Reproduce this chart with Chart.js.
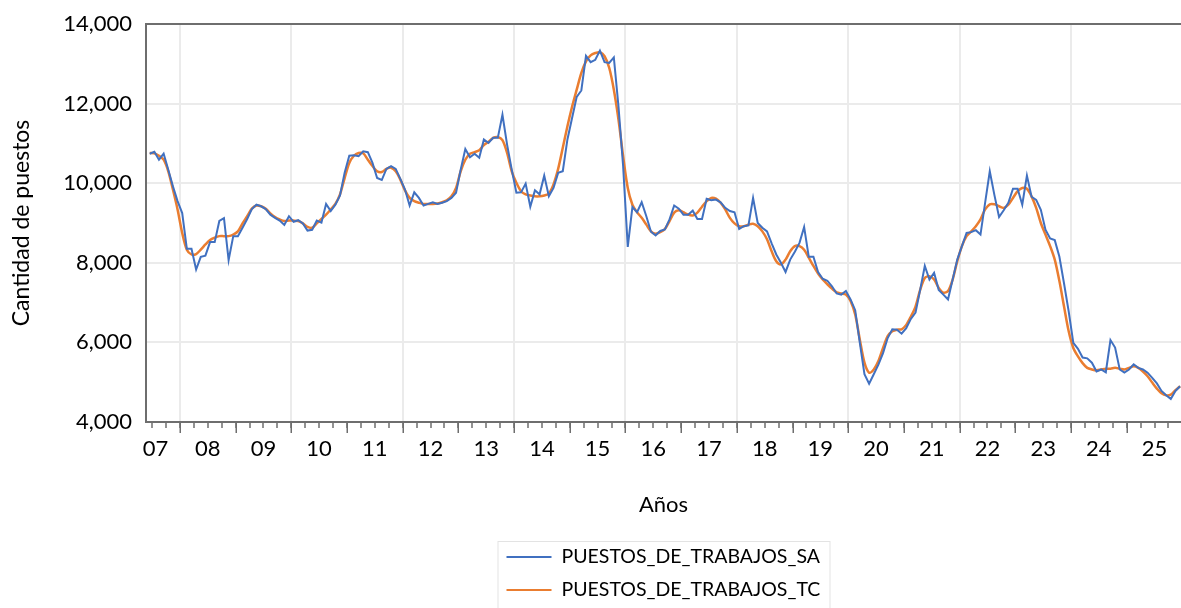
<!DOCTYPE html>
<html>
<head>
<meta charset="utf-8">
<script src="https://cdn.jsdelivr.net/npm/chart.js@4.4.1/dist/chart.umd.min.js"></script>
<style>
  html, body { margin: 0; padding: 0; background: #fff; }
  #wrap { width: 1181px; height: 608px; position: relative; }
</style>
</head>
<body>
<div id="wrap"><canvas id="chart"></canvas></div>
<script>
// serie mensual, comienza en junio 2007 (mes 5 contando desde enero 2007 = 0)
const firstMonth = 5;

const puestosSA = [
  10740, 10790, 10590, 10740, 10340, 9920, 9550,
  9250, 8350, 8350, 7830, 8150, 8180, 8520, 8520, 9050, 9120, 8070, 8670,
  8670, 8880, 9100, 9350, 9460, 9420, 9350, 9210, 9130, 9060, 8950, 9170,
  9030, 9070, 8990, 8810, 8830, 9060, 9010, 9480, 9300, 9460, 9690, 10260,
  10690, 10700, 10680, 10800, 10780, 10510, 10130, 10080, 10360, 10430, 10360, 10110,
  9840, 9440, 9770, 9630, 9440, 9480, 9520, 9480, 9510, 9550, 9630, 9760,
  10340, 10860, 10650, 10740, 10640, 11100, 11010, 11140, 11140, 11720, 10970, 10340,
  9760, 9770, 9990, 9410, 9820, 9720, 10190, 9670, 9880, 10260, 10300, 11100,
  11640, 12170, 12330, 13200, 13040, 13100, 13330, 13040, 13020, 13160, 11930, 10430,
  8400, 9400, 9270, 9520, 9170, 8780, 8690, 8800, 8840, 9090, 9440, 9360,
  9210, 9210, 9310, 9100, 9100, 9610, 9570, 9590, 9520, 9380, 9300, 9270,
  8850, 8920, 8940, 9630, 9000, 8880, 8790, 8490, 8210, 8000, 7770, 8080,
  8280, 8500, 8900, 8150, 8150, 7770, 7600, 7550, 7410, 7230, 7200, 7290,
  7080, 6810, 5990, 5200, 4960, 5200, 5440, 5730, 6110, 6330, 6320, 6220,
  6360, 6590, 6750, 7320, 7920, 7580, 7750, 7320, 7200, 7080, 7580, 8080,
  8420, 8750, 8770, 8820, 8710, 9510, 10300, 9700, 9150, 9320, 9510, 9860,
  9860, 9460, 10190, 9660, 9580, 9330, 8830, 8610, 8570, 8150, 7480, 6780,
  5990, 5840, 5620, 5600, 5490, 5270, 5320, 5250, 6060, 5870, 5320, 5240,
  5320, 5450, 5360, 5320, 5240, 5110, 4970, 4780, 4670, 4580, 4780, 4900
];

const puestosTC = [
  10760, 10750, 10690, 10590, 10300, 9840, 9340,
  8750, 8330, 8210, 8220, 8330, 8460, 8570, 8630, 8670, 8670, 8670, 8710,
  8790, 8990, 9170, 9360, 9440, 9420, 9360, 9240, 9150, 9090, 9050, 9060,
  9060, 9050, 8990, 8900, 8880, 8990, 9100, 9210, 9340, 9480, 9720, 10130,
  10510, 10690, 10760, 10750, 10590, 10430, 10300, 10280, 10360, 10390, 10300, 10090,
  9820, 9630, 9550, 9510, 9480, 9480, 9480, 9490, 9520, 9570, 9670, 9880,
  10300, 10590, 10740, 10780, 10830, 10960, 11040, 11140, 11160, 11080, 10760, 10300,
  10010, 9800, 9720, 9690, 9670, 9670, 9690, 9740, 9970, 10360, 10890, 11430,
  11920, 12350, 12770, 13060, 13210, 13270, 13290, 13190, 12900, 12350, 11600, 10680,
  9880, 9460, 9270, 9130, 8960, 8790, 8730, 8770, 8850, 9050, 9260, 9320,
  9270, 9210, 9190, 9260, 9410, 9550, 9630, 9610, 9510, 9340, 9130, 8990,
  8920, 8920, 8960, 8980, 8920, 8790, 8590, 8290, 8040, 7960, 8080, 8290,
  8420, 8420, 8330, 8130, 7920, 7730, 7580, 7460, 7350, 7260, 7230, 7200,
  7040, 6700, 6070, 5490, 5240, 5320, 5530, 5860, 6160, 6280, 6320, 6330,
  6440, 6650, 6900, 7320, 7620, 7660, 7580, 7370, 7250, 7290, 7580, 8040,
  8420, 8670, 8790, 8920, 9090, 9340, 9470, 9470, 9420, 9380, 9460, 9630,
  9800, 9880, 9860, 9670, 9380, 9000, 8710, 8420, 8080, 7540, 6900, 6280,
  5860, 5650, 5480, 5360, 5320, 5300, 5320, 5340, 5340, 5360, 5340, 5320,
  5360, 5400, 5360, 5270, 5150, 4990, 4840, 4720, 4670, 4690, 4800, 4900
];

// etiquetas del eje X (una por año, centradas a mitad de año)
const yearLabels = ['07', '08', '09', '10', '11', '12', '13', '14', '15', '16',
                    '17', '18', '19', '20', '21', '22', '23', '24', '25'];
const yTicks = [4000, 6000, 8000, 10000, 12000, 14000];

const seriesNames = ['PUESTOS_DE_TRABAJOS_SA', 'PUESTOS_DE_TRABAJOS_TC'];
const colors = ['#4070C0', '#EA7D30'];

const toPoints = arr => arr.map((v, i) => ({ x: firstMonth + i + 0.5, y: v }));

// marcas trimestrales + posición de etiqueta "07" (año recortado, va algo corrida)
const quarterTicks = [];
for (let q = 9; q <= 225; q += 3) quarterTicks.push(q);
const xTicks = [6, 6.75].concat(quarterTicks);
const yearBoundaries = [];
for (let b = 12; b <= 216; b += 12) yearBoundaries.push(b);

Chart.defaults.font.family = 'Lato';
Chart.defaults.color = '#000';

const isQuarter = v => v % 3 === 0;
const labelFor = v => {
  if (v === 6.75) return yearLabels[0];
  if (v > 12 && (v - 6) % 12 === 0) return yearLabels[(v - 6) / 12];
  return '';
};

const frameAndLegend = {
  id: 'frameAndLegend',
  afterDraw(chart) {
    const { ctx, chartArea: a, scales } = chart;
    ctx.save();
    // borde superior
    ctx.strokeStyle = '#6e6e6e';
    ctx.lineWidth = 2;
    ctx.beginPath();
    ctx.moveTo(a.left - 1, a.top);
    ctx.lineTo(a.right, a.top);
    ctx.stroke();

    // marcas largas en el cambio de año
    ctx.lineWidth = 1.5;
    ctx.beginPath();
    yearBoundaries.forEach(b => {
      const px = Math.round(scales.x.getPixelForValue(b)) + 0.25;
      ctx.moveTo(px, a.bottom);
      ctx.lineTo(px, a.bottom + 11);
    });
    ctx.stroke();

    // leyenda en caja, dos filas
    const cx = (a.left + a.right) / 2;
    const boxL = cx - 166, boxT = 541, boxW = 332;
    ctx.strokeStyle = '#e3e3e3';
    ctx.lineWidth = 1;
    ctx.strokeRect(boxL + 0.5, boxT + 0.5, boxW, 80);
    ctx.font = '19.5px Lato';
    ctx.textBaseline = 'middle';
    ctx.fillStyle = '#000';
    const rows = [557, 590];
    seriesNames.forEach((name, i) => {
      ctx.strokeStyle = colors[i];
      ctx.lineWidth = 2;
      ctx.beginPath();
      ctx.moveTo(boxL + 9, rows[i]);
      ctx.lineTo(boxL + 54, rows[i]);
      ctx.stroke();
      ctx.fillText(name, boxL + 64, rows[i]);
    });
    ctx.restore();
  }
};

new Chart(document.getElementById('chart'), {
  type: 'line',
  data: {
    datasets: [
      {
        label: seriesNames[0],
        data: toPoints(puestosSA),
        borderColor: colors[0],
        borderWidth: 2,
        pointRadius: 0,
        tension: 0
      },
      {
        label: seriesNames[1],
        data: toPoints(puestosTC),
        borderColor: colors[1],
        borderWidth: 2.5,
        pointRadius: 0,
        tension: 0.3
      }
    ]
  },
  options: {
    responsive: true,
    maintainAspectRatio: false,
    animation: false,
    layout: { padding: { left: 0, right: 0, top: 24, bottom: 0 } },
    plugins: {
      legend: { display: false },
      tooltip: { enabled: false }
    },
    scales: {
      x: {
        type: 'linear',
        min: 4.7,
        max: 227.7,
        afterBuildTicks: scale => { scale.ticks = xTicks.map(v => ({ value: v })); },
        afterFit: scale => { scale.height = 186; },
        ticks: {
          autoSkip: false,
          maxRotation: 0,
          padding: 8,
          font: { size: 22 },
          color: '#000',
          callback: v => labelFor(v)
        },
        grid: {
          color: ctx => (ctx.tick && ctx.tick.value % 24 === 12 ? '#ebebeb' : 'rgba(0,0,0,0)'),
          lineWidth: 2,
          tickColor: ctx => (ctx.tick && isQuarter(ctx.tick.value) ? '#6e6e6e' : 'rgba(0,0,0,0)'),
          tickLength: 6,
          tickWidth: 1.5
        },
        border: { color: '#6e6e6e', width: 2 },
        title: {
          display: true,
          text: 'Años',
          font: { size: 22 },
          color: '#000',
          padding: { top: 0, bottom: 90 }
        }
      },
      y: {
        min: 4000,
        max: 14000,
        afterBuildTicks: scale => { scale.ticks = yTicks.map(v => ({ value: v })); },
        afterFit: scale => { scale.width = 146; },
        ticks: {
          padding: 9,
          font: { size: 22 },
          color: '#000',
          callback: v => v.toLocaleString('en-US')
        },
        grid: {
          color: '#ebebeb',
          lineWidth: 2,
          drawTicks: true,
          tickLength: 5,
          tickColor: 'rgba(0,0,0,0)'
        },
        border: { color: '#6e6e6e', width: 2 },
        title: {
          display: true,
          text: 'Cantidad de puestos',
          font: { size: 23 },
          color: '#000',
          padding: { top: 8, bottom: 0 }
        }
      }
    }
  },
  plugins: [frameAndLegend]
});
</script>
</body>
</html>
